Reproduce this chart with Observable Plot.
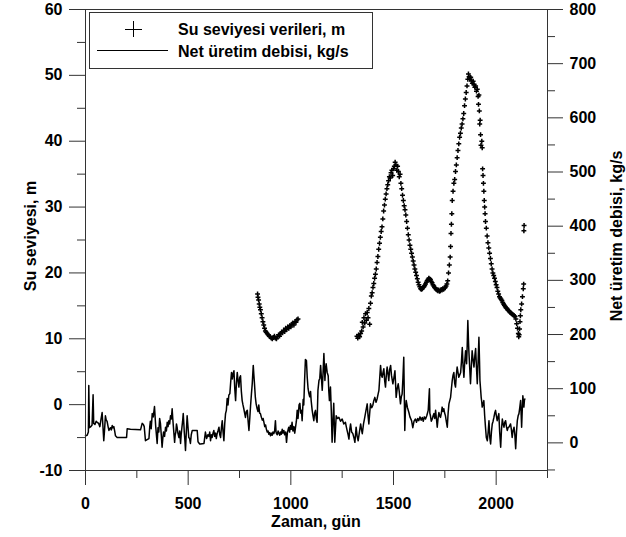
<!DOCTYPE html>
<html><head><meta charset="utf-8">
<script src="https://cdn.jsdelivr.net/npm/d3@7"></script>
<script src="https://cdn.jsdelivr.net/npm/@observablehq/plot@0.6"></script>
<style>body{margin:0;background:#fff}</style>
</head><body><div id="chart"></div>
<script>
// Net üretim debisi, kg/s : [gün, kg/s]
const flowPoints = [
[0,13],[8,14],[14,20],[16,106],[19,28],[26,30],[32,33],[37,89],[40,36],[46,34],[52,40],[57,38],[64,36],[70,30],[76,45],[81,56],[85,30],[89,4],[93,25],[97,50],[101,42],[105,40],[110,30],[114,23],[118,26],[122,28],[126,24],[130,32],[134,28],[138,30],[142,22],[146,13],[154,10],[200,10],[203,26],[219,25],[268,24],[276,36],[282,34],[286,30],[292,4],[300,6],[309,8],[313,30],[316,40],[320,26],[325,54],[330,48],[336,67],[342,30],[349,-1],[353,28],[357,20],[361,45],[365,36],[369,15],[373,-8],[377,10],[380,20],[385,12],[390,29],[394,22],[398,38],[402,30],[406,41],[410,35],[414,50],[418,44],[422,63],[425,45],[428,30],[434,1],[437,15],[440,20],[443,35],[446,29],[450,18],[455,10],[459,22],[463,-1],[466,15],[470,30],[473,40],[476,54],[479,35],[481,20],[484,5],[487,-14],[491,20],[495,50],[499,30],[503,10],[507,8],[511,-1],[515,15],[520,23],[544,23],[548,2],[556,-2],
[560,-2],[577,-1],[584,20],[590,8],[596,15],[601,12],[605,20],[609,4],[613,15],[617,10],[621,18],[625,23],[629,12],[633,18],[637,8],[641,17],[645,22],[650,29],[654,15],[658,10],[662,28],[666,41],[670,20],[674,4],[678,35],[682,54],[686,60],[690,82],[694,70],[698,88],[703,91],[707,112],[711,130],[715,118],[719,128],[723,133],[727,100],[731,78],[735,110],[739,130],[743,115],[747,103],[751,120],[755,124],[759,95],[763,78],[767,70],[771,63],[775,55],[779,47],[783,58],[788,60],[792,40],[796,23],[800,45],[804,69],[808,90],[812,109],[817,143],[820,125],[823,109],[827,85],[831,72],[836,63],[840,58],[844,70],[848,55],[852,54],[856,48],[861,42],[865,45],[869,38],[873,30],[877,33],[881,25],[885,20],[889,22],[893,16],[897,19],[901,13],[905,18],[909,14],[913,20],[917,17],[921,22],[925,41],[928,20],[930,17],[934,15],[938,22],[942,18],[946,14],[950,20],[954,16],[958,25],[962,18],[966,23],[970,15],[975,20],[979,1],[983,18],[987,25],[990,29],[994,20],[998,32],[1002,25],[1006,38],[1010,22],[1015,30],[1019,18],[1023,29],[1027,40],[1031,60],[1035,45],[1040,70],[1044,73],[1048,55],[1052,60],[1055,41],[1060,80],[1063,70],[1067,115],[1071,154],[1076,152],[1080,120],[1084,100],[1088,91],[1092,85],[1096,95],[1099,78],[1104,60],[1108,50],[1112,41],[1116,55],[1120,60],
[1124,45],[1128,38],[1132,97],[1137,115],[1141,119],[1145,143],[1149,120],[1153,97],[1157,130],[1161,165],[1166,115],[1169,135],[1172,146],[1177,130],[1182,124],[1185,95],[1188,78],[1193,103],[1197,60],[1201,1],[1205,40],[1209,73],[1214,1],[1218,30],[1221,50],[1227,45],[1234,47],[1242,40],[1250,44],[1258,35],[1266,38],[1270,30],[1274,23],[1279,15],[1283,7],[1287,25],[1291,35],[1296,20],[1302,17],[1307,10],[1312,1],[1315,15],[1318,29],[1323,12],[1328,4],[1334,20],[1340,35],[1344,25],[1348,17],[1354,35],[1360,47],[1366,60],[1372,72],[1376,50],[1380,35],[1384,55],[1388,72],[1394,65],[1399,69],[1404,78],[1409,84],[1415,75],[1420,81],[1425,90],[1429,97],[1433,120],[1437,143],[1441,125],[1445,121],[1449,130],[1453,137],[1457,115],[1461,103],[1465,125],[1469,140],[1473,128],[1477,115],[1481,135],[1486,143],[1490,125],[1497,109],[1502,120],[1507,133],[1510,110],[1513,84],[1518,100],[1523,109],[1528,95],[1534,72],[1538,85],[1542,90],[1546,120],[1550,158],[1555,23],[1558,60],[1562,78],[1568,65],[1575,56],[1580,48],[1588,41],[1594,28],[1600,40],[1607,44],[1612,38],[1618,45],[1623,41],[1629,48],[1635,42],[1640,47],[1645,40],[1650,48],[1656,44],[1662,50],[1669,60],[1675,100],[1677,55],[1680,50],
[1684,40],[1689,44],[1693,50],[1697,54],[1701,45],[1705,60],[1709,45],[1713,29],[1717,45],[1721,56],[1725,50],[1729,47],[1733,55],[1737,66],[1741,58],[1745,63],[1749,55],[1753,50],[1757,40],[1762,29],[1766,55],[1770,72],[1774,78],[1778,84],[1782,100],[1786,115],[1790,125],[1794,130],[1798,110],[1802,103],[1806,125],[1810,140],[1814,130],[1818,121],[1822,125],[1827,130],[1831,150],[1835,176],[1839,140],[1843,121],[1847,150],[1851,170],[1854,155],[1856,146],[1859,180],[1862,226],[1865,190],[1867,170],[1871,140],[1875,109],[1879,140],[1883,170],[1887,155],[1892,140],[1896,160],[1900,174],[1904,140],[1908,109],[1912,150],[1916,195],[1919,150],[1921,115],[1924,100],[1927,84],[1930,75],[1932,66],[1936,72],[1940,78],[1944,50],[1948,29],[1952,10],[1957,4],[1961,20],[1965,41],[1969,10],[1973,-2],[1977,20],[1981,35],[1985,40],[1989,47],[1993,55],[1997,60],[2001,50],[2005,41],[2009,48],[2013,54],[2017,20],[2022,-8],[2026,25],[2030,44],[2034,35],[2038,29],[2042,38],[2046,41],[2050,30],[2054,23],[2058,28],[2062,29],[2066,32],[2070,35],[2074,25],[2078,10],[2082,22],[2087,29],[2091,15],[2095,-11],[2099,20],[2103,41],[2107,50],[2111,54],[2115,65],[2119,78],[2122,50],[2124,29],[2127,60],[2130,87],[2133,75],[2135,66],[2138,80],[2140,81]
];
// Su seviyesi verileri, m : [gün, m]
const levelPoints = [
[838,16.8],[840,16.3],[843,15.9],[846,15.3],[849,14.8],[852,14.4],[856,13.8],[860,13.2],[864,12.6],[868,12.1],[872,11.6],[876,11.2],[880,11.0],[885,10.8],[890,10.6],[895,10.4],[900,10.3],[905,10.1],[910,10.0],[915,10.2],[920,10.4],[925,10.1],[930,10.0],[935,10.3],[940,10.6],[945,10.4],[950,10.8],[955,11.0],[960,10.9],[965,11.3],[970,11.1],[975,11.6],[980,11.4],[985,11.8],[990,11.6],[995,12.0],[1000,11.8],[1005,12.2],[1010,12.4],[1015,12.1],[1020,12.6],[1025,12.5],[1030,12.9],[1035,13.0],
[1322,10.4],[1326,10.1],[1330,10.6],[1335,10.3],[1340,10.8],[1345,11.2],[1348,12.5],[1352,11.8],[1356,13.2],[1360,12.4],[1364,13.8],[1368,12.8],[1372,14.0],[1376,13.2],[1380,14.6],[1384,12.2],[1388,15.4],[1392,16.5],[1396,17.0],[1400,17.8],[1404,18.4],[1408,19.2],[1412,19.8],[1416,20.6],[1420,21.6],[1424,22.5],[1428,23.6],[1432,24.5],[1436,25.4],[1440,26.3],[1444,27.0],[1448,28.2],[1452,29.4],[1456,30.3],[1460,31.2],[1464,32.0],[1468,32.8],[1472,33.4],[1476,34.0],[1480,34.6],[1484,34.4],[1488,35.2],[1492,35.6],[1496,34.8],[1500,35.8],[1504,36.2],[1508,36.8],[1512,36.4],[1516,35.6],[1520,36.2],[1524,35.4],[1528,34.6],[1532,35.0],[1536,33.6],[1540,32.8],[1544,31.8],[1548,31.0],[1552,30.2],[1556,29.6],[1560,28.8],[1564,27.8],[1568,26.8],[1572,25.8],[1576,25.0],[1580,24.2],[1584,23.6],[1588,23.0],[1592,22.4],[1596,21.8],[1600,21.2],[1604,20.6],[1608,20.1],[1612,19.6],[1616,19.1],[1620,18.6],[1624,18.2],[1628,17.9],[1632,17.6],[1636,17.5],[1640,17.6],[1644,17.8],[1648,17.9],[1652,18.1],[1656,18.3],[1660,18.6],[1664,18.8],[1668,19.0],[1672,19.2],[1676,19.1],[1680,19.0],[1684,18.7],[1688,18.5],[1692,18.2],[1696,18.0],[1700,17.8],[1704,17.7],[1708,17.5],[1712,17.4],[1716,17.3],[1720,17.4],[1724,17.2],[1728,17.3],[1732,17.5],[1736,17.4],[1740,17.6],[1744,17.5],[1748,17.7],[1752,17.8],[1756,18.0],[1760,18.3],[1764,18.8],[1768,20.0],[1772,21.2],[1776,22.4],[1778,24.0],[1780,26.0],[1782,27.4],[1784,29.0],[1786,31.0],[1790,32.4],[1794,33.6],[1798,34.2],[1802,35.4],[1806,36.4],[1810,37.5],[1814,38.6],[1818,39.6],[1822,40.6],[1826,41.2],[1830,42.0],[1834,42.6],[1838,43.4],[1842,44.2],[1846,45.4],[1850,46.4],[1854,47.4],[1858,48.4],[1862,49.4],[1865,50.2],[1868,49.8],[1872,49.4],[1876,49.7],[1880,49.2],[1884,48.8],[1888,49.1],[1892,48.6],[1896,48.2],[1900,48.4],[1904,47.6],[1908,47.9],[1912,46.8],[1914,45.6],[1916,47.0],[1918,44.6],[1920,42.6],[1922,43.2],[1924,41.0],[1926,39.4],[1930,40.0],[1932,39.0],[1934,35.8],[1936,34.8],[1938,33.6],[1940,32.4],[1942,31.0],[1944,30.0],[1946,29.0],[1948,27.8],[1952,26.8],[1956,25.6],[1960,24.6],[1964,23.8],[1968,23.0],[1972,22.2],[1976,21.4],[1980,20.6],[1984,20.0],[1988,19.6],[1992,19.2],[1996,18.7],[2000,18.2],[2004,17.8],[2008,17.2],[2012,16.8],[2016,16.4],[2020,16.2],[2024,16.0],[2028,15.8],[2032,15.5],[2036,15.3],[2040,15.1],[2044,14.9],[2048,14.7],[2052,14.6],[2056,14.4],[2060,14.3],[2064,14.2],[2068,14.0],[2072,13.9],[2076,13.8],[2080,13.7],[2084,13.6],[2088,13.5],[2092,13.4],[2096,13.0],[2100,12.3],[2104,11.6],[2108,10.8],[2110,10.3],[2112,10.6],[2114,11.5],[2116,12.6],[2118,13.5],[2120,14.4],[2124,15.3],[2128,16.4],[2132,17.6],[2134,18.3],[2135,26.4],[2136,27.2]
];
const xMajorTicks = [0, 500, 1000, 1500, 2000];
const xMinorTicks = [250, 750, 1250, 1750, 2250];
const leftMajorTicks = [-10, 0, 10, 20, 30, 40, 50, 60];
const leftMinorTicks = [-5, 5, 15, 25, 35, 45, 55];
const rightMajorTicks = [0, 100, 200, 300, 400, 500, 600, 700, 800];
const rightMinorTicks = [-50, 50, 150, 250, 350, 450, 550, 650, 750];
const xTitle = "Zaman, gün";
const leftTitle = "Su seviyesi, m";
const rightTitle = "Net üretim debisi, kg/s";
const legendLabels = ["Su seviyesi verileri, m", "Net üretim debisi, kg/s"];

const L_MIN = -10, L_MAX = 60, F_MIN = -51, F_MAX = 800;
const toLeft = f => L_MIN + (f - F_MIN) * (L_MAX - L_MIN) / (F_MAX - F_MIN);
const toFlow = l => F_MIN + (l - L_MIN) * (F_MAX - F_MIN) / (L_MAX - L_MIN);

const flowData = flowPoints.map(([day, flow]) => ({day, flow}));
const levelData = levelPoints.map(([day, level]) => ({day, level}));

const FONT = "'Liberation Sans', Arial, Helvetica, sans-serif";
const AX = "#333";

const plot = Plot.plot({
  width: 626, height: 537,
  marginTop: 9, marginBottom: 67, marginLeft: 85, marginRight: 79,
  style: {fontFamily: FONT, fontWeight: "bold", fontSize: "16px", color: "#000", background: "#fff", overflow: "visible"},
  x: {domain: [0, 2250]},
  y: {domain: [L_MIN, L_MAX]},
  marks: [
    Plot.line(flowData, {x: "day", y: d => toLeft(d.flow), stroke: "#000", strokeWidth: 1.5}),
    Plot.dot(levelData, {x: "day", y: "level", symbol: "plus", r: 1.7, stroke: "#000", strokeWidth: 1.5}),
    Plot.frame({stroke: AX}),
    Plot.axisX({ticks: xMajorTicks, tickSize: 15, tickPadding: 12, label: null, stroke: AX, fontSize: 16, tickFormat: d => String(d)}),
    Plot.axisX({ticks: xMinorTicks, tickSize: 8, tickFormat: () => "", label: null, stroke: AX}),
    Plot.axisY({ticks: leftMajorTicks, tickSize: 16, tickPadding: 7, label: null, stroke: AX, fontSize: 16, tickFormat: d => String(d)}),
    Plot.axisY({ticks: leftMinorTicks, tickSize: 8, tickFormat: () => "", label: null, stroke: AX}),
    Plot.axisY({anchor: "right", ticks: rightMajorTicks.map(toLeft), tickSize: 15, tickPadding: 7, label: null, stroke: AX, fontSize: 16,
      tickFormat: v => String(Math.round(toFlow(v)))}),
    Plot.axisY({anchor: "right", ticks: rightMinorTicks.map(toLeft), tickSize: 7, tickFormat: () => "", label: null, stroke: AX})
  ]
});
document.getElementById("chart").appendChild(plot);

const svg = d3.select(plot);
const tstyle = s => s.attr("font-family", FONT).attr("font-weight", "bold").attr("font-size", 16).attr("fill", "#000");
svg.append("text").text(xTitle).attr("x", 316).attr("y", 527).attr("text-anchor", "middle").call(tstyle);
svg.append("text").text(leftTitle).attr("transform", "translate(30,236) rotate(-90)").attr("text-anchor", "middle").attr("dy", "0.35em").call(tstyle);
svg.append("text").text(rightTitle).attr("transform", "translate(616,236) rotate(-90)").attr("text-anchor", "middle").attr("dy", "0.35em").call(tstyle);

// legend
const lg = svg.append("g");
lg.append("rect").attr("x", 89.5).attr("y", 12.5).attr("width", 283).attr("height", 56).attr("fill", "#fff").attr("stroke", AX).attr("stroke-width", 1);
lg.append("line").attr("x1", 125).attr("x2", 142).attr("y1", 29.5).attr("y2", 29.5).attr("stroke", "#000");
lg.append("line").attr("x1", 133.5).attr("x2", 133.5).attr("y1", 21).attr("y2", 37).attr("stroke", "#000");
lg.append("line").attr("x1", 97).attr("x2", 168).attr("y1", 50.5).attr("y2", 50.5).attr("stroke", "#000");
lg.append("text").text(legendLabels[0]).attr("x", 178).attr("y", 34.5).attr("text-anchor", "start").call(tstyle);
lg.append("text").text(legendLabels[1]).attr("x", 178).attr("y", 56.5).attr("text-anchor", "start").call(tstyle);
</script>
</body></html>
